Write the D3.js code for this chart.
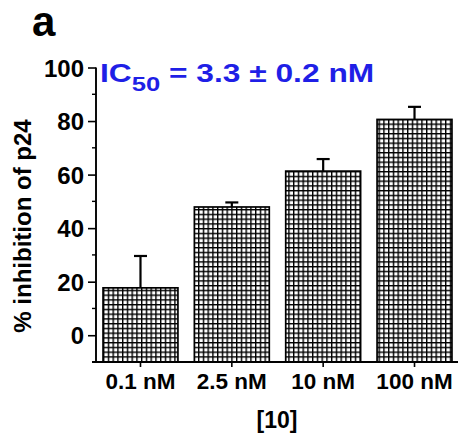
<!DOCTYPE html>
<html>
<head>
<meta charset="utf-8">
<script src="https://cdn.jsdelivr.net/npm/d3@7"></script>
<style>
  body { margin: 0; background: #fff; }
  text { font-family: "Liberation Sans", Arial, sans-serif; font-weight: bold; }
</style>
</head>
<body>
<div id="chart"></div>
<script>
var categories = ["0.1 nM", "2.5 nM", "10 nM", "100 nM"];
var inhibition = [17.7, 47.9, 61.3, 80.6];
var errors = [11.9, 1.7, 4.5, 4.7];
var yTicks = [0, 20, 40, 60, 80, 100];
var yMinorTicks = [10, 30, 50, 70, 90];

var width = 459, height = 438;

var svg = d3.select("#chart")
    .append("svg")
    .attr("width", width)
    .attr("height", height);

// cross hatch fill
var cell = 4.75;
var pat = svg.append("defs")
    .append("pattern")
    .attr("id", "grid")
    .attr("patternUnits", "userSpaceOnUse")
    .attr("x", 103)
    .attr("y", 0)
    .attr("width", cell)
    .attr("height", cell);
pat.append("rect").attr("width", cell).attr("height", cell).style("fill", "#fff");
pat.append("line").attr("x1", 0.7).attr("x2", 0.7).attr("y1", 0).attr("y2", cell)
    .style("stroke", "#000").style("stroke-width", 1.4);
pat.append("line").attr("x1", 0).attr("x2", cell).attr("y1", 0.7).attr("y2", 0.7)
    .style("stroke", "#000").style("stroke-width", 1.4);

var x = d3.scaleBand()
    .domain(categories)
    .range([96, 459])
    .paddingInner(0.18)
    .paddingOuter(0.077);

var y = d3.scaleLinear()
    .domain([-10, 100])
    .range([362, 67.5]);

// bars
svg.selectAll("rect.bar")
    .data(inhibition)
    .enter()
    .append("rect")
    .attr("class", "bar")
    .attr("x", function(d, i){ return x(categories[i]); })
    .attr("width", x.bandwidth())
    .attr("y", function(d){ return y(d); })
    .attr("height", function(d){ return y(-10) - y(d); })
    .style("fill", "url(#grid)")
    .style("stroke", "#000")
    .style("stroke-width", 1.7);

// error bars, upper half only
var err = svg.append("g").selectAll("g")
    .data(inhibition)
    .enter()
    .append("g");
err.append("line")
    .attr("x1", function(d, i){ return x(categories[i]) + x.bandwidth() / 2; })
    .attr("x2", function(d, i){ return x(categories[i]) + x.bandwidth() / 2; })
    .attr("y1", function(d){ return y(d); })
    .attr("y2", function(d, i){ return y(d + errors[i]); })
    .style("stroke", "#000").style("stroke-width", 2.2);
err.append("line")
    .attr("x1", function(d, i){ return x(categories[i]) + x.bandwidth() / 2 - 6.5; })
    .attr("x2", function(d, i){ return x(categories[i]) + x.bandwidth() / 2 + 6.5; })
    .attr("y1", function(d, i){ return y(d + errors[i]); })
    .attr("y2", function(d, i){ return y(d + errors[i]); })
    .style("stroke", "#000").style("stroke-width", 2.2);

// y axis
var yAxis = svg.append("g")
    .attr("transform", "translate(96,0)")
    .call(d3.axisLeft(y).tickValues(yTicks).tickSize(8).tickPadding(4).tickSizeOuter(0));
yAxis.select(".domain").style("stroke", "#000").style("stroke-width", 1.9)
    .attr("d", "M0," + y(100) + "V" + y(-10));
yAxis.selectAll(".tick line").style("stroke", "#000").style("stroke-width", 1.6);
yAxis.selectAll(".tick text")
    .style("font-size", "24px")
    .style("fill", "#000")
    .attr("dy", "0.36em");

svg.append("g").selectAll("line")
    .data(yMinorTicks)
    .enter()
    .append("line")
    .attr("x1", 92).attr("x2", 96)
    .attr("y1", function(d){ return y(d); })
    .attr("y2", function(d){ return y(d); })
    .style("stroke", "#000").style("stroke-width", 1.4);

// x axis
var xAxis = svg.append("g")
    .attr("transform", "translate(0," + y(-10) + ")")
    .call(d3.axisBottom(x).tickSize(5).tickPadding(6).tickSizeOuter(0));
xAxis.select(".domain").style("stroke", "#000").style("stroke-width", 1.9)
    .attr("d", "M92,0H458");
xAxis.selectAll(".tick line").style("stroke", "#000").style("stroke-width", 1.6);
xAxis.selectAll(".tick text")
    .style("font-size", "22.5px")
    .style("fill", "#000");

// axis titles
svg.append("text")
    .attr("x", 277)
    .attr("y", 428)
    .attr("text-anchor", "middle")
    .style("font-size", "23px")
    .style("fill", "#000")
    .text("[10]");

svg.append("text")
    .attr("transform", "translate(31,226) rotate(-90)")
    .attr("text-anchor", "middle")
    .style("font-size", "24px")
    .style("fill", "#000")
    .text("% inhibition of p24");

// panel letter
svg.append("text")
    .attr("x", 32)
    .attr("y", 36)
    .style("font-size", "42px")
    .style("fill", "#000")
    .text("a");

// IC50 annotation
var ic = svg.append("text")
    .attr("transform", "translate(100,82) scale(1.22,1)")
    .style("font-size", "26px")
    .style("fill", "#1f1fe6");
ic.append("tspan").text("IC");
ic.append("tspan").attr("dy", 9).style("font-size", "21px").text("50");
ic.append("tspan").attr("dy", -9).text(" = 3.3 \u00b1 0.2 nM");
</script>
</body>
</html>
